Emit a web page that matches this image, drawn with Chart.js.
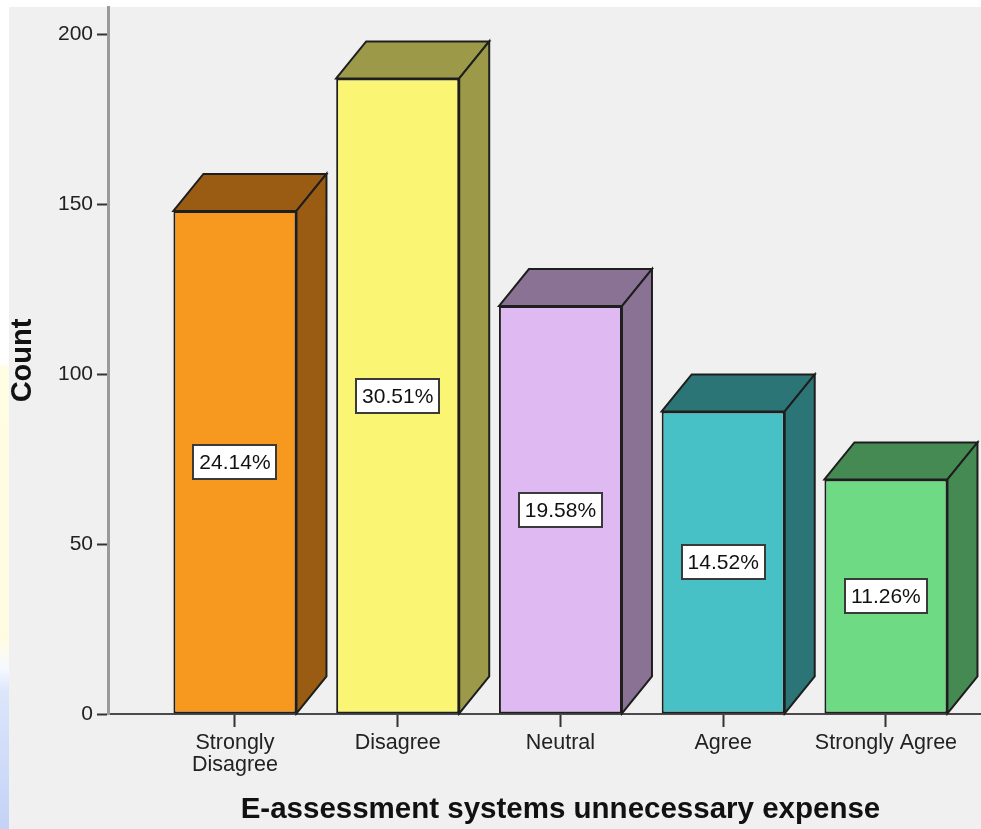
<!DOCTYPE html>
<html>
<head>
<meta charset="utf-8">
<title>E-assessment systems unnecessary expense</title>
<script src="https://cdn.jsdelivr.net/npm/chart.js@4/dist/chart.umd.min.js"></script>
<style>
  html, body { margin: 0; padding: 0; }
  body {
    width: 981px; height: 829px; overflow: hidden;
    background:
      linear-gradient(to bottom, #ffffff 0, #ffffff 362px, #fffde3 368px, #fffbe2 640px,
                      #f6f9ff 668px, #dbe6fb 692px, #c4d2f6 829px) no-repeat 0 0 / 9px 829px,
      #ffffff;
  }
  canvas { display: block; }
</style>
</head>
<body>
<canvas id="chart" width="981" height="829"></canvas>
<script>
// Response categories and their counts
const categories = ['Strongly Disagree', 'Disagree', 'Neutral', 'Agree', 'Strongly Agree'];
const tickLabels = [['Strongly', 'Disagree'], 'Disagree', 'Neutral', 'Agree', 'Strongly Agree'];
const counts = [148, 187, 120, 89, 69];
const yTicks = [0, 50, 100, 150, 200];
const xTitle = 'E-assessment systems unnecessary expense';

// Front face colours and the darker shade used for the top and side faces
const frontColors = ['#f7981f', '#faf673', '#dfb9f1', '#47c1c5', '#6edb84'];
const shadeColors = ['#9a5c13', '#9c9a48', '#8a7294', '#2b7576', '#458a52'];

const total = counts.reduce((a, b) => a + b, 0);
const percentLabels = counts.map(c => (c / total * 100).toFixed(2) + '%');

const DEPTH_X = 30;
const DEPTH_Y = 37;
const EDGE = '#1e1e1e';

// Plot background (light grey panel)
const panelBackground = {
  id: 'panelBackground',
  beforeDraw(chart) {
    const ctx = chart.ctx;
    ctx.save();
    ctx.fillStyle = '#f0f0f0';
    ctx.fillRect(9, 7, chart.width - 9, chart.height - 7);
    ctx.restore();
  }
};

// Top and side faces that give each bar its depth, plus the percentage boxes
const barDepth = {
  id: 'barDepth',
  afterDatasetsDraw(chart) {
    const ctx = chart.ctx;
    const meta = chart.getDatasetMeta(0);
    ctx.save();
    ctx.lineWidth = 2;
    ctx.lineJoin = 'miter';
    ctx.strokeStyle = EDGE;
    meta.data.forEach((bar, i) => {
      const { x, y, base, width } = bar.getProps(['x', 'y', 'base', 'width'], true);
      const l = x - width / 2;
      const r = x + width / 2;
      ctx.fillStyle = shadeColors[i];
      // top face
      ctx.beginPath();
      ctx.moveTo(l, y);
      ctx.lineTo(l + DEPTH_X, y - DEPTH_Y);
      ctx.lineTo(r + DEPTH_X, y - DEPTH_Y);
      ctx.lineTo(r, y);
      ctx.closePath();
      ctx.fill();
      ctx.stroke();
      // side face
      ctx.beginPath();
      ctx.moveTo(r, y);
      ctx.lineTo(r + DEPTH_X, y - DEPTH_Y);
      ctx.lineTo(r + DEPTH_X, base - DEPTH_Y);
      ctx.lineTo(r, base);
      ctx.closePath();
      ctx.fill();
      ctx.stroke();
    });

    // percentage label boxes in the middle of each front face
    ctx.font = '21px "Liberation Sans", Arial, sans-serif';
    ctx.textAlign = 'center';
    ctx.textBaseline = 'middle';
    meta.data.forEach((bar, i) => {
      const { x, y, base } = bar.getProps(['x', 'y', 'base'], true);
      const cy = (y + base) / 2;
      const text = percentLabels[i];
      const w = Math.round(ctx.measureText(text).width) + 12;
      const h = 34;
      const bx = Math.round(x - w / 2);
      const by = Math.round(cy - h / 2);
      ctx.fillStyle = '#ffffff';
      ctx.fillRect(bx, by, w, h);
      ctx.lineWidth = 2;
      ctx.strokeStyle = '#3a3a3a';
      ctx.strokeRect(bx, by, w, h);
      ctx.fillStyle = '#111111';
      ctx.fillText(text, x, cy + 1);
    });
    ctx.restore();
  },
  // category-axis title, centred under the middle category
  afterDraw(chart) {
    const ctx = chart.ctx;
    const xs = chart.scales.x;
    const mid = xs.getPixelForValue((categories.length + 1) / 2);
    ctx.save();
    ctx.font = 'bold 29.5px "Liberation Sans", Arial, sans-serif';
    ctx.fillStyle = '#111111';
    ctx.textAlign = 'center';
    ctx.textBaseline = 'middle';
    ctx.fillText(xTitle, mid, 810);
    ctx.restore();
  }
};

// Scales keep a fixed footprint so the plot area stays put
function noEdgePadding(scale) {
  scale.paddingTop = 0;
  scale.paddingBottom = 0;
  scale.paddingLeft = 0;
  scale.paddingRight = 0;
}

new Chart(document.getElementById('chart'), {
  type: 'bar',
  data: {
    datasets: [{
      label: 'Count',
      data: counts.map((c, i) => ({ x: i + 1, y: c })),
      backgroundColor: frontColors,
      borderColor: EDGE,
      borderWidth: 2,
      borderSkipped: false,
      barPercentage: 0.756,
      categoryPercentage: 1
    }]
  },
  options: {
    responsive: false,
    animation: false,
    devicePixelRatio: 1,
    layout: { padding: { top: 7, left: 0, right: 0, bottom: 0 } },
    plugins: {
      legend: { display: false },
      tooltip: { enabled: false }
    },
    scales: {
      x: {
        type: 'linear',
        min: 0.22,
        max: 5.584,
        offset: false,
        afterBuildTicks(scale) {
          scale.ticks = categories.map((_, i) => ({ value: i + 1 }));
        },
        afterFit(scale) { scale.height = 115; noEdgePadding(scale); },
        border: { display: true, color: '#4a4a4a', width: 2 },
        grid: {
          offset: false,
          drawOnChartArea: false,
          drawTicks: true,
          tickLength: 13,
          tickColor: '#333333',
          tickWidth: 2
        },
        ticks: {
          autoSkip: false,
          maxRotation: 0,
          padding: 5,
          color: '#222222',
          font: { family: '"Liberation Sans", Arial, sans-serif', size: 21.5, lineHeight: 1.03 },
          callback: (value) => tickLabels[value - 1]
        },
        title: { display: false }
      },
      y: {
        min: 0,
        max: 208,
        afterBuildTicks(scale) {
          scale.ticks = yTicks.map(v => ({ value: v }));
        },
        afterFit(scale) { scale.width = 108; noEdgePadding(scale); },
        border: { display: true, color: '#9a9a9a', width: 3 },
        grid: {
          drawOnChartArea: false,
          drawTicks: true,
          tickLength: 11,
          tickColor: '#333333',
          tickWidth: 2
        },
        ticks: {
          padding: 4,
          color: '#222222',
          font: { family: '"Liberation Sans", Arial, sans-serif', size: 21 }
        },
        title: {
          display: true,
          text: 'Count',
          color: '#111111',
          font: { family: '"Liberation Sans", Arial, sans-serif', size: 29, weight: 'bold', lineHeight: 1.2 },
          padding: { top: 6, bottom: 0 }
        }
      }
    }
  },
  plugins: [panelBackground, barDepth]
});
</script>
</body>
</html>
